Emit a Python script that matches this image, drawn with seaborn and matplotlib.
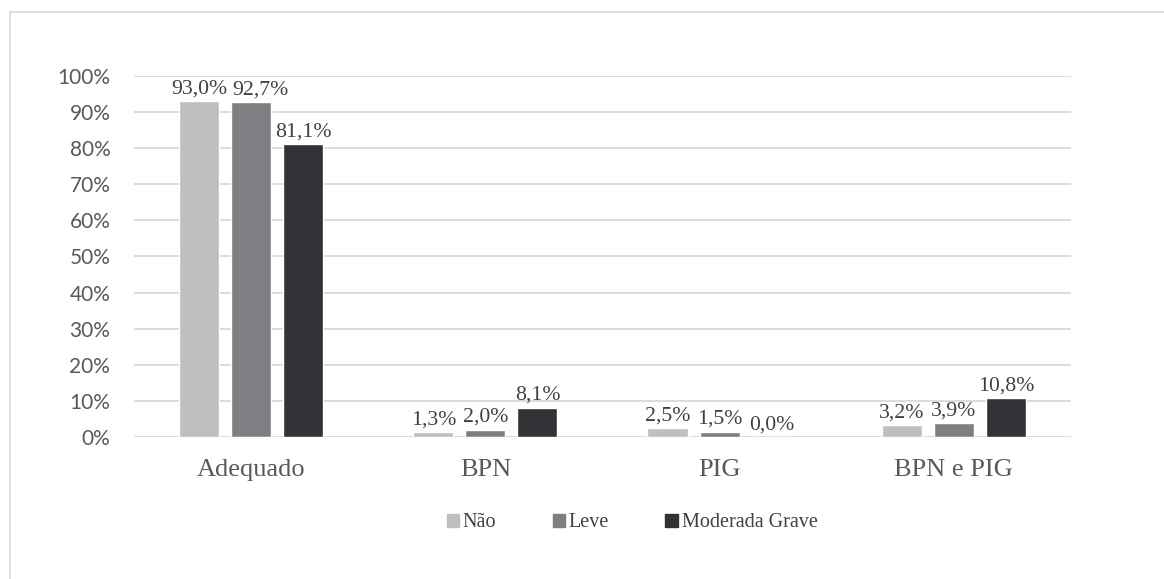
import pandas as pd
import matplotlib.pyplot as plt
import seaborn as sns
from matplotlib.lines import Line2D

# dados
categorias = ['Adequado', 'BPN', 'PIG', 'BPN e PIG']
grupos = ['Não', 'Leve', 'Moderada Grave']
nao = [93.0, 1.3, 2.5, 3.2]
leve = [92.7, 2.0, 1.5, 3.9]
moderada_grave = [81.1, 8.1, 0.0, 10.8]
cores = ['#BFBFC1', '#7E7F83', '#333135']

df = pd.DataFrame({
    'Categoria': categorias * 3,
    'Grupo': [g for g in grupos for _ in categorias],
    'Valor': nao + leve + moderada_grave,
})

sns.set_style('white')
fig = plt.figure(figsize=(11.64, 5.79), dpi=100)
ax = fig.add_axes([0.1151, 0.2453, 0.805, 0.6234])

sns.barplot(data=df, x='Categoria', y='Valor', hue='Grupo', hue_order=grupos,
            palette=cores, width=0.667, gap=0.23, saturation=1, ax=ax, legend=False)

# rotulos dos valores com virgula decimal
anots = []
for cont in ax.containers:
    rot = [f'{b.get_height():.1f}%'.replace('.', ',') for b in cont]
    anots.append(ax.bar_label(cont, labels=rot, padding=2, fontsize=15.7,
                              family='Liberation Serif', color='#404040'))
# no original o rotulo 92,7% foi empurrado para a direita
anots[1][0].xyann = (7, 2)

ax.set_ylim(0, 100)
ax.set_xlim(-0.5, 3.5)
ax.set_yticks(range(0, 101, 10))
ax.set_yticklabels([f'{v}%' for v in range(0, 101, 10)], family='Lato',
                   fontsize=15, color='#595959')
ax.set_xticks(range(len(categorias)))
ax.set_xticklabels(categorias, family='Liberation Serif', fontsize=19, color='#595959')
ax.tick_params(axis='y', length=0, pad=17)
ax.tick_params(axis='x', length=0, pad=16)
ax.set_xlabel('')
ax.set_ylabel('')
ax.yaxis.grid(True, color='#D9D9D9', linewidth=1.3)
ax.set_axisbelow(True)
for s in ax.spines.values():
    s.set_visible(False)

handles = [plt.Rectangle((0, 0), 1, 1, color=c) for c in cores]
leg = fig.legend(handles, grupos, loc='center', bbox_to_anchor=(0.543, 0.097),
                 ncol=3, frameon=False, handlelength=0.6, handleheight=0.6,
                 handletextpad=0.2, columnspacing=2.8,
                 prop={'family': 'Liberation Serif', 'size': 14.5})
for t in leg.get_texts():
    t.set_color('#404040')

# moldura do grafico
fig.add_artist(Line2D([10 / 1164, 1], [1 - 12 / 579, 1 - 12 / 579], color='#D9D9D9', lw=1.2))
fig.add_artist(Line2D([10 / 1164, 10 / 1164], [0, 1 - 12 / 579], color='#D9D9D9', lw=1.2))

fig.savefig('out.png', dpi=100)
